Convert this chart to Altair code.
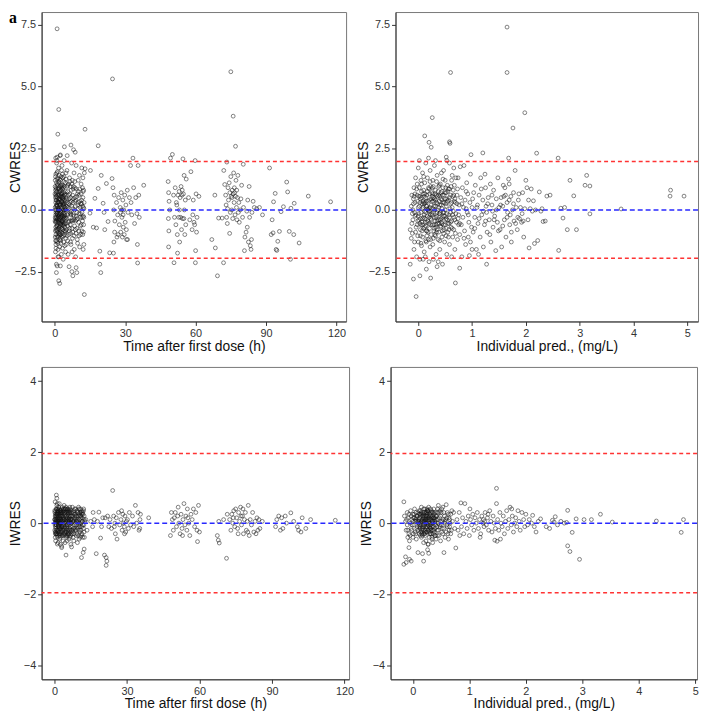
import altair as alt
import pandas as pd

# ---------------- data ----------------
# top-left: time after first dose (h) vs CWRES
tl_points = [
    (0.2,1.2),(0.3,0.8),(0.5,0.4),(0.2,0.1),(0.4,-0.2),(0.3,-0.5),(0.6,-0.8),(0.2,-1.1),(0.5,-1.4),(0.3,-1.7),
    (0.8,1.9),(0.9,1.5),(1.0,1.0),(1.2,0.6),(0.8,0.2),(1.1,-0.1),(0.9,-0.4),(1.3,-0.9),(1.0,-1.3),(1.4,-1.6),
    (0.7,-2.2),(0.4,2.1),(1.3,1.3),(0.6,0.7),(1.1,0.3),(0.7,-0.3),(1.2,-0.6),(0.5,-1.0),(1.4,-1.9),(0.9,2.0),
    (1.6,1.7),(1.8,1.1),(2.0,0.7),(2.2,0.4),(1.7,0.0),(2.4,-0.3),(1.9,-0.7),(2.6,-1.0),(2.1,-1.5),(2.8,-1.8),
    (2.3,2.2),(2.9,1.6),(2.5,1.2),(1.6,0.9),(2.7,0.5),(2.0,0.2),(2.8,-0.1),(1.8,-0.4),(2.5,-0.6),(2.2,-1.2),
    (1.7,-1.9),(2.9,0.9),(2.4,-0.9),(1.9,1.4),(2.6,0.1),
    (3.1,1.8),(3.4,1.3),(3.6,0.9),(3.2,0.5),(3.9,0.2),(4.2,-0.2),(3.5,-0.5),(4.4,-0.9),(3.8,-1.3),(4.6,-1.7),
    (4.0,2.0),(4.8,1.5),(3.3,1.0),(4.1,0.6),(4.7,0.0),(3.7,-0.3),(4.3,-0.7),(3.1,-1.1),(4.9,-1.4),(3.6,-2.0),
    (4.5,1.1),(3.9,-0.1),(4.2,0.4),(3.4,-0.8),
    (5.2,1.6),(5.5,1.0),(5.9,0.6),(6.2,0.2),(5.4,-0.2),(6.6,-0.6),(6.0,-1.0),(6.9,-1.4),(5.7,-1.8),(7.2,1.9),
    (7.5,1.2),(7.0,0.8),(7.8,0.3),(6.4,-0.1),(7.3,-0.4),(7.7,-0.9),(6.7,-1.3),(7.4,-1.7),(5.1,0.4),(5.8,-0.5),
    (6.3,1.3),(7.9,-0.2),(6.1,-2.3),(5.3,2.2),(6.8,0.5),
    (8.2,1.5),(8.6,0.9),(9.0,0.4),(8.4,0.0),(9.3,-0.4),(8.8,-0.8),(9.6,-1.2),(8.3,-1.6),(10.0,1.2),(10.4,0.6),
    (10.8,0.1),(10.2,-0.5),(11.0,-1.0),(10.6,-1.5),(11.5,1.7),(11.8,0.9),(12.0,0.5),(12.2,0.1),(11.7,-0.3),(12.3,-0.6),
    (11.9,-1.0),(12.4,-1.4),(12.1,-1.6),(12.0,1.3),(12.3,0.8),(11.6,-0.1),(12.5,0.3),(12.2,-0.9),(9.1,1.8),(10.5,1.4),
    (8.9,-1.9),(9.8,0.2),(11.3,-0.6),(12.6,1.5),(12.4,-0.3),
    (0.3,0.5),(0.6,0.0),(0.4,-0.7),(0.8,-0.5),(1.0,0.5),(0.5,0.9),(1.2,-0.2),(1.5,0.3),(1.7,-0.5),(2.1,0.0),
    (2.3,-0.4),(2.5,0.8),(2.8,0.3),(3.0,-0.2),(3.3,0.2),(3.5,-0.4),(3.8,0.7),(4.0,-0.6),(4.4,0.1),(4.6,-0.3),
    (1.1,-0.8),(0.7,1.1),(1.9,0.6),(2.2,-0.8),(2.6,-0.3),(3.1,0.7),(3.7,0.0),(4.1,-1.0),(0.2,-0.3),(0.4,0.3),
    (1.4,0.0),(1.8,0.3),(2.0,-1.0),(2.7,1.0),(3.2,-0.6),(4.8,0.6),(5.0,-0.8),(0.9,0.2),(1.6,-1.1),(3.4,0.5),
    (0.5,-0.1),(0.7,0.4),(1.3,0.1),(1.5,-0.3),(2.4,0.2),(2.9,-0.5),(3.6,0.3),(4.3,0.0),(5.6,0.1),(6.5,0.3),
    (6.9,-0.2),(7.6,0.6),(8.1,-0.4),(8.7,0.5),(9.4,-0.1),(10.1,0.3),(10.9,-0.3),(11.4,0.4),(0.9,-1.1),(1.9,-0.2),
    (0.1,0.65),(0.25,-0.85),(0.45,1.45),(0.65,-1.25),(0.85,0.75),(1.05,-0.65),(1.25,1.05),(1.45,-0.45),(1.65,0.45),(1.85,-0.95),
    (2.05,1.25),(2.25,-0.15),(2.45,0.55),(2.65,-1.35),(2.85,0.65),(3.05,-0.75),(3.25,1.45),(3.45,-0.25),(3.65,0.15),(3.85,-0.55),
    (4.05,0.95),(4.25,-1.45),(4.45,0.35),(4.65,-0.85),(4.85,0.05),(5.25,-1.05),(5.45,0.75),(5.75,-0.15),(6.05,0.45),(6.35,-0.75),
    (6.65,0.95),(6.95,-0.45),(7.25,0.15),(7.55,-1.15),(7.85,0.85),(8.45,-0.65),(9.05,-0.95),(9.65,0.65),(10.25,-0.85),(11.05,0.25),
    (0.15,0.95),(0.35,-1.25),(0.55,0.15),(0.75,-0.65),(0.95,1.25),(1.15,-0.35),(1.35,0.65),(1.55,-0.75),(1.75,1.15),(1.95,0.05),
    (2.15,-0.55),(2.35,0.95),(2.55,-0.05),(2.75,-0.75),(2.95,0.35),(3.15,-0.45),(3.35,0.85),(3.55,-1.05),(3.75,0.55),(3.95,-0.25),
    (4.15,0.25),(4.35,-0.55),(4.55,0.75),(4.75,-1.15),(4.95,0.45),(5.15,-0.35),(5.35,0.95),(5.55,-0.65),(5.85,0.25),(6.15,-0.85),
    (6.45,0.65),(6.75,-0.15),(7.05,0.35),(7.35,-0.75),(7.65,0.05),(7.95,0.95),(8.25,-0.25),(8.55,0.35),(8.85,-0.45),(9.15,0.85),
    (9.45,-0.75),(9.75,-0.35),(10.05,0.05),(10.35,-1.05),(10.65,0.85),(10.95,-0.15),(11.25,0.65),(11.55,-0.85),(11.85,0.15),(12.15,-0.25),
    (0.25,0.0),(0.45,0.6),(0.65,-0.45),(0.85,-0.15),(1.05,0.15),(1.25,-1.05),(1.45,0.85),(1.65,-0.25),(1.85,0.45),(2.05,-0.65),
    (2.25,0.25),(2.45,-1.15),(2.65,0.65),(2.85,-0.45),(3.05,0.05),(3.25,-0.95),(3.45,0.25),(3.65,-0.15),(3.85,1.15),(4.05,-0.35),
    (0.12,-0.45),(0.32,1.35),(0.52,-1.55),(0.72,0.85),(0.92,-0.85),(1.12,1.55),(1.32,-1.35),(1.52,0.05),(1.72,-0.15),(1.92,0.85),
    (2.12,-0.95),(2.32,0.45),(2.52,-1.25),(2.72,1.35),(2.92,-0.25),(3.12,0.95),(3.32,-1.55),(3.52,0.45),(3.72,-0.65),(3.92,1.35),
    (4.12,-0.85),(4.32,0.65),(4.52,-0.35),(4.72,1.25),(4.92,-0.55),(5.22,0.15),(5.52,-1.25),(5.82,1.05),(6.12,-0.45),(6.42,1.15),
    (6.72,-0.95),(7.02,-0.05),(7.32,1.05),(7.62,-0.45),(7.92,0.45),(8.22,-1.05),(8.52,1.15),(8.82,0.15),(9.12,-0.25),(9.42,0.55),
    (9.72,-1.35),(10.02,0.75),(10.32,-0.15),(10.62,0.35),(10.92,-0.65),(11.22,1.05),(11.52,0.25),(11.82,-0.45),(12.12,0.75),(12.42,0.05),
    (0.42,-0.35),(0.62,0.55),(1.02,-0.15),(1.42,0.35),(1.82,-0.35),(2.22,0.75),(2.62,-0.55),(3.02,0.55),(3.42,-0.05),(3.82,0.25),
    (1.0,7.34),(1.7,4.07),(1.3,3.07),(12.9,3.27),(12.6,-3.43),(2.1,-2.98),(1.7,-2.87),(0.7,-2.54),(1.0,-2.27),(2.4,-2.27),
    (7.3,-2.5),(7.7,-2.67),(9.1,-2.34),(9.4,-2.54),(6.9,2.63),(4.1,2.56),(2.4,2.23),(1.0,2.14),(8.7,2.34),(8.0,2.44),
    (15.0,-0.13),(17.1,0.47),(17.8,-0.73),(18.5,0.87),(19.2,-1.67),(19.8,1.4),(20.6,0.27),(21.3,-0.8),(22.0,1.07),(22.7,-0.47),
    (23.4,-1.74),(24.4,1.27),(15.2,1.6),(12.9,1.67),(18.5,2.6),(19.6,-2.54),(19.2,-2.2),(24.6,5.31),(16.4,-0.7),(21.0,-0.1),
    (25.0,-1.75),(25.2,-1.3),(25.5,-0.9),(24.8,0.9),(25.3,0.6),(25.1,0.0),(25.6,-0.45),(26.3,0.3),(26.8,-0.2),(27.2,0.5),
    (27.5,-0.6),(27.9,0.1),(28.1,-0.9),(28.3,0.7),(28.6,-0.3),(28.8,-1.1),(29.0,0.4),(29.2,-0.7),(29.4,0.0),(29.6,-1.0),
    (29.8,0.6),(30.0,-0.5),(30.3,0.2),(30.6,-1.2),(30.9,0.8),(27.0,-1.0),(28.0,-0.1),(28.5,0.0),(29.1,-0.2),(30.5,-0.8),
    (31.2,-0.1),(31.8,0.5),(32.3,1.8),(32.5,0.3),(32.8,-0.2),(33.3,2.1),(33.6,0.9),(34.0,-0.55),(34.5,0.5),(35.0,-0.15),
    (35.2,-1.4),(35.5,1.8),(35.3,-2.15),(35.8,0.6),(36.0,-0.3),(37.9,1.0),(31.0,-1.2),(26.5,-1.1),
    (48.3,1.15),(48.5,0.7),(48.7,0.35),(48.4,-0.35),(48.6,-0.85),(48.5,-1.5),(49.0,0.0),(49.3,2.1),(50.1,2.25),(50.6,0.6),
    (51.0,-0.3),(51.3,0.9),(51.6,-0.6),(52.0,0.2),(52.2,-1.0),(52.5,0.6),(52.8,-0.3),(53.0,0.75),(53.2,-1.3),(53.4,0.5),
    (53.6,-0.3),(53.8,0.95),(54.0,-0.8),(54.2,0.6),(54.4,-0.35),(54.6,2.07),(54.8,0.65),(55.0,-0.35),(55.2,0.0),(55.4,-1.0),
    (55.6,0.4),(55.8,-0.6),(56.0,1.25),(52.3,-1.75),(53.1,0.0),(51.8,0.3),(54.3,0.8),(55.1,1.4),(57.0,0.5),(57.5,-0.4),
    (58.0,1.55),(58.5,-0.8),(59.0,0.4),(59.3,-0.5),(59.6,-0.6),(60.0,-1.65),(60.2,0.65),(60.6,-0.3),(61.4,0.55),(59.8,2.0),
    (58.8,-0.2),(60.4,-0.9),(50.8,-2.14),(59.9,-2.14),
    (66.9,-1.2),(68.4,-1.54),(69.3,-2.67),(68.2,0.6),(69.8,-0.33),(71.3,-0.33),(72.0,1.6),(72.4,1.03),(73.3,1.94),(71.9,-2.14),
    (72.8,0.6),(73.0,0.2),(73.2,-0.3),(73.5,-0.55),(73.8,0.9),(74.0,0.4),(74.3,1.1),(74.6,0.7),(74.8,-0.1),(75.0,1.35),
    (75.2,0.55),(75.4,0.0),(75.6,0.8),(75.8,-0.35),(76.0,0.65),(76.2,1.5),(76.4,0.3),(76.6,0.7),(76.8,-0.2),(77.0,0.55),
    (77.2,1.2),(77.4,0.1),(77.6,-0.4),(77.8,0.5),(78.0,1.4),(78.2,-0.1),(78.4,0.3),(78.6,-0.5),(79.0,0.0),(79.3,0.45),
    (79.6,1.0),(80.0,-0.3),(80.4,0.1),(74.5,-0.95),(75.5,0.5),(76.5,0.9),(77.5,0.8),(73.6,0.05),(80.8,-1.65),(81.0,-1.1),
    (81.5,-0.9),(82.0,-0.7),(82.5,-1.3),(83.0,-0.3),(83.3,-1.45),(83.6,-1.6),(84.0,-0.1),(84.5,0.35),(85.0,0.1),(82.2,0.4),
    (83.8,-1.2),(81.8,-0.05),(80.3,1.85),(82.8,0.95),(75.0,5.6),(76.0,3.8),(77.0,2.58),
    (86.0,0.05),(87.2,0.1),(88.5,-0.2),(91.5,1.7),(92.2,-1.0),(92.6,-0.4),(93.2,0.33),(93.9,0.67),(94.3,-1.6),(94.6,-1.64),
    (95.0,-1.27),(95.7,-0.87),(96.4,-0.07),(97.4,0.13),(98.8,1.13),(99.2,0.73),(99.9,-0.87),(101.8,-1.0),(100.4,-2.0),(102.0,0.27),
    (104.1,-1.34),(108.0,0.56),(117.5,0.33),(100.6,0.07),(93.0,-0.93),
]

# top-right: individual prediction (mg/L) vs CWRES
tr_points = [
    (-0.15,-0.8),(-0.13,-1.15),(-0.12,0.6),(-0.1,0.0),(-0.1,-0.4),(-0.08,0.9),(-0.08,-1.6),(-0.06,0.3),(-0.05,-0.9),(-0.05,1.3),
    (-0.04,-0.2),(-0.03,-1.9),(-0.02,0.6),(-0.02,-0.6),(0.0,1.7),(0.0,0.1),(0.0,-1.3),(0.01,-0.4),(0.02,0.9),(0.03,-2.0),
    (0.03,0.3),(0.04,-0.8),(0.05,1.2),(0.05,-0.1),(-0.07,-1.3),(-0.09,0.25),(0.02,2.0),
    (0.06,0.5),(0.07,-0.5),(0.08,1.5),(0.08,-1.1),(0.09,0.1),(0.1,-0.3),(0.1,0.8),(0.11,-1.7),(0.12,1.1),(0.12,-0.7),
    (0.13,0.3),(0.14,-0.1),(0.14,1.9),(0.15,-1.3),(0.16,0.6),(0.16,-0.5),(0.17,1.3),(0.18,-0.9),(0.18,0.0),(0.19,0.9),
    (0.2,-0.3),(0.2,-2.1),(0.21,0.4),(0.22,-1.5),(0.22,1.6),(0.23,-0.6),(0.24,0.2),(0.24,-1.0),(0.25,0.7),(0.09,-2.0),
    (0.13,-1.9),(0.19,2.1),(0.11,0.55),(0.15,0.15),(0.17,-0.25),(0.21,-0.75),(0.23,0.95),(0.07,0.25),(0.19,-1.2),(0.12,-0.05),
    (0.26,-0.2),(0.27,1.2),(0.27,-1.4),(0.28,0.5),(0.29,-0.6),(0.3,0.0),(0.3,1.8),(0.31,-1.0),(0.32,0.8),(0.33,-0.3),
    (0.33,-1.8),(0.34,0.3),(0.35,1.4),(0.35,-0.8),(0.36,0.0),(0.37,-1.2),(0.38,0.6),(0.38,-0.4),(0.39,1.0),(0.4,-1.6),
    (0.4,0.2),(0.41,-0.1),(0.42,0.7),(0.42,-0.7),(0.43,1.5),(0.44,-1.1),(0.44,0.4),(0.45,-0.3),(0.26,0.9),(0.29,0.15),
    (0.31,-0.45),(0.34,-0.9),(0.36,0.55),(0.39,-0.15),(0.41,1.05),(0.43,-0.5),(0.28,-2.0),(0.37,-2.1),(0.32,2.0),(0.3,0.45),
    (0.46,0.9),(0.47,-0.6),(0.48,0.3),(0.49,-1.3),(0.5,1.2),(0.5,0.0),(0.51,-0.4),(0.52,0.7),(0.53,-1.8),(0.54,1.0),
    (0.55,-0.9),(0.56,0.4),(0.57,-0.2),(0.58,1.9),(0.58,-1.4),(0.6,0.6),(0.61,-0.7),(0.62,1.2),(0.63,0.1),(0.64,-1.1),
    (0.65,0.8),(0.66,-0.3),(0.67,1.0),(0.68,-1.6),(0.69,0.3),(0.7,1.3),(0.48,-0.1),(0.52,-0.75),(0.55,0.75),(0.6,-0.1),
    (0.63,1.4),(0.47,1.6),(0.53,2.0),(0.66,1.7),(0.62,-1.9),
    (-0.11,-0.15),(-0.06,0.65),(-0.01,-1.05),(0.04,0.45),(0.08,-0.35),(0.11,0.25),(0.14,-0.65),(0.17,0.75),(0.2,0.05),(0.23,-0.35),
    (0.26,0.35),(0.29,-0.85),(0.32,0.15),(0.35,-0.45),(0.38,0.95),(0.41,-0.65),(0.44,0.05),(0.47,-0.25),(0.5,0.45),(0.53,-0.15),
    (0.06,-1.45),(0.1,1.35),(0.16,-1.05),(0.22,1.15),(0.28,-1.15),(0.34,1.15),(0.4,-1.25),(0.46,1.25),(0.52,-1.05),(0.58,0.85),
    (0.03,-0.55),(0.09,0.65),(0.15,-0.85),(0.21,-0.05),(0.27,0.65),(0.33,-0.6),(0.39,0.35),(0.45,-0.85),(0.51,0.25),(0.57,-0.55),
    (-0.12,-0.55),(-0.09,0.45),(-0.07,-0.1),(-0.04,-0.7),(-0.01,0.35),(0.01,-0.15),(0.04,-1.05),(0.06,0.75),(0.08,-0.6),(0.1,0.3),
    (0.12,-0.35),(0.14,0.5),(0.16,-0.85),(0.18,0.35),(0.2,-0.55),(0.22,0.1),(0.24,-0.4),(0.26,0.55),(0.28,-0.1),(0.3,-0.75),
    (0.32,0.4),(0.34,-0.25),(0.36,0.25),(0.38,-0.9),(0.4,0.55),(0.42,-0.35),(0.44,0.75),(0.46,-0.1),(0.48,0.6),(0.5,-0.6),
    (0.52,0.15),(0.54,-0.4),(0.56,0.85),(0.58,-0.3),(0.6,0.25),(0.62,-0.45),(0.64,0.55),(0.66,-0.8),(0.68,0.45),(0.7,-0.15),
    (0.0,-0.25),(0.03,0.55),(0.07,-0.85),(0.11,-0.2),(0.15,0.35),(0.19,-0.05),(0.23,-1.2),(0.27,0.05),(0.31,0.65),(0.35,-0.1),
    (0.39,-0.55),(0.43,0.2),(0.47,-0.95),(0.51,0.9),(0.55,-0.55),(0.59,0.05),(0.63,-0.75),(0.67,0.35),(-0.02,1.05),(0.05,-1.35),
    (-0.13,0.15),(-0.11,-0.95),(-0.08,0.55),(-0.06,-0.25),(-0.03,0.85),(-0.01,-0.45),(0.02,0.15),(0.04,-0.35),(0.06,1.05),(0.08,0.05),
    (0.1,-0.75),(0.12,0.65),(0.14,-1.25),(0.16,0.15),(0.18,-0.45),(0.2,0.85),(0.22,-0.2),(0.24,0.45),(0.26,-0.6),(0.28,0.95),
    (0.3,-0.3),(0.32,-1.05),(0.34,0.6),(0.36,-0.55),(0.38,0.1),(0.4,-0.15),(0.42,0.45),(0.44,-0.55),(0.46,0.3),(0.48,-0.8),
    (0.5,0.7),(0.52,-0.35),(0.54,0.35),(0.56,-1.1),(0.58,0.5),(0.6,-0.5),(0.62,0.3),(0.64,-0.2),(0.66,0.6),(0.68,-0.4),
    (0.01,0.55),(0.05,-0.6),(0.09,0.35),(0.13,-0.5),(0.17,0.05),(0.21,0.65),(0.25,-0.15),(0.29,0.35),(0.33,-0.7),(0.37,0.75),
    (0.41,-0.4),(0.45,0.6),(0.49,-0.25),(0.53,0.45),(0.57,-0.8),(0.61,0.95),(0.65,-0.05),(0.69,-0.95),(0.72,0.25),(0.75,-0.6),
    (0.71,-0.5),(0.72,0.6),(0.73,-1.2),(0.74,1.3),(0.75,-0.2),(0.76,0.2),(0.77,-1.0),(0.78,1.75),(0.79,0.5),(0.8,-0.6),
    (0.81,-1.9),(0.82,0.9),(0.83,-0.3),(0.84,0.1),(0.86,-0.85),(0.87,0.4),(0.88,-1.4),(0.9,1.1),(0.91,-0.1),(0.92,0.65),
    (0.94,-0.5),(0.95,-1.85),(0.96,0.3),(0.97,1.45),(0.99,-0.7),(1.0,0.1),(0.85,1.8),(0.93,-1.1),(0.74,-0.35),(0.89,0.05),
    (0.73,0.85),(0.77,-0.55),(0.81,0.25),(0.85,-1.15),(0.89,0.75),(0.93,-0.2),(0.97,-1.3),(1.01,0.45),(1.05,-0.75),(1.09,0.1),
    (1.13,-0.35),(1.17,0.85),(1.21,-0.05),(1.25,-0.45),(1.29,0.25),(1.33,-1.0),(1.37,0.6),(1.41,-0.4),(1.45,0.0),(1.49,-0.85),
    (1.53,0.2),(1.57,-0.65),(1.61,0.9),(1.65,-0.3),(1.69,0.4),(1.73,-0.9),(1.77,0.25),(1.81,-0.55),(1.87,0.65),(1.93,-0.15),
    (1.02,-0.9),(1.03,0.7),(1.05,-0.3),(1.06,1.0),(1.08,-1.6),(1.1,0.2),(1.11,-0.55),(1.13,0.6),(1.15,-1.1),(1.16,1.3),
    (1.18,-0.2),(1.2,0.4),(1.21,-1.5),(1.23,-0.6),(1.25,0.9),(1.27,-0.1),(1.28,-0.9),(1.3,0.5),(1.32,-0.4),(1.34,1.05),
    (1.35,-1.3),(1.37,0.2),(1.39,-0.7),(1.4,0.8),(1.42,-0.25),(1.44,-1.65),(1.45,0.45),(1.47,-0.5),(1.48,1.3),(1.5,0.1),
    (1.12,-1.8),(1.26,0.15),(1.38,-0.05),(1.24,1.45),
    (1.52,-0.8),(1.54,0.5),(1.55,-1.5),(1.57,0.15),(1.58,1.0),(1.6,-0.4),(1.62,0.6),(1.63,-1.1),(1.65,0.3),(1.66,-0.1),
    (1.68,1.25),(1.7,-0.6),(1.72,0.55),(1.73,-1.3),(1.75,0.0),(1.77,0.7),(1.78,-0.45),(1.8,1.6),(1.82,0.1),(1.84,-0.8),
    (1.86,0.4),(1.88,-0.35),(1.9,0.1),(1.92,-0.5),(1.94,0.7),(1.96,-1.1),(1.98,0.05),(2.0,1.2),(1.59,0.55),(1.71,-0.2),
    (1.85,-0.3),(1.95,-0.45),(1.69,1.05),
    (2.02,0.9),(2.04,-0.4),(2.05,0.4),(2.06,-1.54),(2.08,0.05),(2.1,0.85),(2.12,-0.05),(2.14,0.37),(2.16,-1.36),(2.18,0.0),
    (2.22,-1.24),(2.25,0.73),(2.28,-0.05),(2.32,-0.47),(2.36,-0.45),(2.39,0.56),(2.45,0.6),(2.3,0.05),
    (1.65,7.41),(1.65,5.57),(0.6,5.57),(1.98,3.94),(1.76,3.32),(0.26,3.74),(0.12,3.0),(0.2,2.74),(0.24,2.54),(0.58,2.76),
    (0.59,2.7),(0.52,2.14),(-0.04,-3.51),(-0.09,-2.8),(0.69,-2.96),(0.23,-2.76),(0.03,-2.67),(-0.15,-2.2),(0.77,-2.36),(1.27,-2.2),
    (0.98,2.24),(1.2,2.31),(2.2,2.3),(2.6,2.1),(1.68,2.1),(2.61,-1.64),(2.65,0.07),(2.69,-0.33),(2.77,-0.8),(2.82,1.2),
    (2.89,0.57),(2.94,-0.8),(3.13,1.4),(3.1,1.0),(3.19,-0.16),(3.19,0.97),(2.72,0.1),(3.77,0.04),(4.68,0.56),(4.69,0.8),
    (4.94,0.56),(1.0,-1.6),(0.45,-2.2),(0.35,-2.3),(0.15,-2.4),
]

# bottom-left: time after first dose (h) vs IWRES
bl_points = [
    (0.2,0.3),(0.3,0.0),(0.4,-0.3),(0.5,0.15),(0.6,-0.15),(0.7,0.4),(0.8,-0.05),(0.9,0.25),(1.0,-0.35),(1.1,0.1),
    (1.2,-0.2),(1.3,0.35),(1.4,0.05),(1.5,-0.1),(1.6,0.2),(1.7,-0.3),(1.8,0.45),(1.9,0.0),(2.0,-0.25),(2.1,0.15),
    (2.2,-0.05),(2.3,0.3),(2.4,-0.4),(2.5,0.1),(2.6,-0.15),(2.7,0.25),(2.8,-0.3),(2.9,0.05),(0.3,0.6),(0.5,-0.5),
    (1.0,0.5),(1.5,-0.55),(2.0,0.55),(2.5,-0.6),(0.1,0.1),(0.6,0.2),(1.2,0.25),(1.7,0.1),(2.2,0.2),(2.8,0.3),
    (0.4,-0.1),(0.9,-0.2),(1.4,-0.25),(1.9,-0.15),(2.4,0.0),(2.9,-0.2),(0.8,0.79),(1.0,0.7),(1.2,0.55),
    (3.1,0.2),(3.3,-0.1),(3.5,0.35),(3.7,-0.3),(3.9,0.1),(4.1,-0.2),(4.3,0.3),(4.5,0.0),(4.7,-0.35),(4.9,0.15),
    (5.1,-0.15),(5.3,0.4),(5.5,0.05),(5.7,-0.25),(5.9,0.2),(6.1,-0.05),(6.3,0.3),(6.5,-0.4),(6.7,0.1),(6.9,-0.2),
    (3.2,0.45),(3.6,-0.5),(4.0,0.5),(4.4,-0.55),(4.8,0.45),(5.2,-0.5),(5.6,0.4),(6.0,-0.45),(6.4,0.45),(6.8,-0.6),
    (3.4,0.05),(3.8,0.25),(4.2,0.1),(4.6,0.25),(5.0,-0.05),(5.4,-0.3),(5.8,0.1),(6.2,0.15),(6.6,-0.1),(3.0,-0.65),
    (4.8,-0.9),(3.0,-0.69),(7.1,-0.67),(2.7,0.0),(1.2,-0.59),
    (7.2,0.3),(7.5,-0.1),(7.8,0.2),(8.1,-0.3),(8.4,0.4),(8.7,0.0),(9.0,-0.2),(9.3,0.35),(9.6,0.1),(9.9,-0.35),
    (10.2,0.25),(10.5,-0.1),(10.8,0.4),(11.1,0.0),(11.4,-0.3),(11.7,0.3),(12.0,-0.15),(12.3,0.2),(12.6,0.05),(7.4,0.45),
    (8.0,-0.5),(8.8,0.4),(9.5,-0.55),(10.0,0.45),(10.7,-0.4),(11.3,0.35),(12.1,0.4),(12.4,-0.4),(7.6,0.05),(8.5,0.15),
    (9.2,-0.05),(10.4,0.1),(11.6,0.05),(12.2,-0.05),(10.2,-0.45),(11.2,-0.97),(11.9,-0.83),(12.3,-0.73),(13.0,0.1),(13.5,-0.2),
    (0.3,0.2),(0.7,-0.25),(1.1,0.3),(1.6,-0.05),(2.1,-0.35),(2.6,0.35),(3.2,-0.25),(3.7,0.4),(4.4,-0.1),(5.0,0.3),
    (5.6,-0.2),(6.2,0.35),(6.8,0.0),(7.3,-0.3),(8.2,0.1),(9.1,0.2),(10.3,-0.2),(11.5,0.15),(0.5,0.05),(1.4,0.4),
    (2.3,-0.15),(3.5,0.1),(4.0,-0.35),(4.6,0.4),(5.3,-0.35),(5.9,0.0),(6.5,0.2),(7.9,-0.15),(9.7,0.3),(11.0,-0.2),
    (0.15,-0.2),(0.55,0.35),(0.95,0.05),(1.35,-0.4),(1.75,0.3),(2.15,-0.45),(2.55,0.2),(2.95,0.4),(3.35,-0.35),(3.75,0.05),
    (4.15,0.4),(4.55,-0.25),(4.95,-0.4),(5.35,0.15),(5.75,0.3),(6.15,-0.3),(6.55,0.05),(6.95,0.35),(7.35,0.1),(7.75,-0.4),
    (8.15,0.25),(8.55,-0.2),(8.95,0.1),(9.35,-0.3),(9.75,0.05),(10.15,-0.05),(10.55,0.3),(10.95,0.2),(11.35,-0.1),(11.75,-0.4),
    (0.25,-0.05),(0.45,0.25),(0.65,0.05),(0.85,-0.3),(1.05,0.2),(1.25,0.0),(1.45,0.3),(1.65,-0.2),(1.85,0.1),(2.05,-0.1),
    (2.25,0.35),(2.45,0.15),(2.65,-0.25),(2.85,0.1),(3.05,0.3),(3.25,-0.05),(3.45,0.2),(3.65,-0.15),(3.85,0.35),(4.05,0.0),
    (4.25,-0.3),(4.45,0.2),(4.65,0.05),(4.85,-0.2),(5.05,0.35),(5.25,0.1),(5.45,-0.1),(5.65,0.25),(5.85,-0.35),(6.05,0.1),
    (6.25,-0.15),(6.45,0.3),(6.65,-0.25),(6.85,0.2),(7.05,0.0),(7.45,-0.2),(7.85,0.3),(8.25,-0.05),(8.65,0.25),(9.05,0.05),
    (9.45,-0.15),(9.85,0.2),(10.25,0.0),(10.65,0.2),(11.05,0.3),(11.45,0.05),(11.85,0.25),(12.25,-0.25),(0.35,-0.4),(0.75,0.1),
    (0.12,0.35),(0.32,-0.25),(0.52,0.1),(0.72,-0.05),(0.92,0.4),(1.12,-0.3),(1.32,0.15),(1.52,0.35),(1.72,-0.1),(1.92,0.25),
    (2.12,0.05),(2.32,-0.3),(2.52,0.35),(2.72,-0.1),(2.92,0.2),(3.12,-0.35),(3.32,0.3),(3.52,-0.2),(3.72,0.15),(3.92,-0.05),
    (4.12,0.3),(4.32,-0.15),(4.52,0.4),(4.72,0.1),(4.92,-0.25),(5.12,0.2),(5.32,-0.05),(5.52,0.3),(5.72,-0.3),(5.92,0.35),
    (6.12,0.05),(6.32,-0.2),(6.52,0.4),(6.72,-0.35),(6.92,0.1),(7.22,0.2),(7.52,-0.25),(7.82,0.05),(8.12,0.35),(8.42,-0.15),
    (8.72,0.2),(9.02,-0.35),(9.32,0.05),(9.62,0.3),(9.92,-0.1),(10.22,0.4),(10.52,-0.25),(10.82,0.15),(11.12,-0.35),(11.42,0.25),
    (11.72,-0.05),(12.02,0.35),(12.32,0.1),(0.22,0.1),(0.62,-0.3),(1.02,0.25),(1.62,0.05),(2.02,0.4),(2.62,0.05),(3.02,-0.1),
    (15.0,0.05),(15.8,-0.1),(16.5,0.1),(17.3,-0.86),(17.8,0.05),(18.4,0.31),(19.1,-0.42),(19.5,-0.1),(20.0,0.15),(20.7,-0.9),
    (21.4,-0.97),(21.7,-1.07),(21.4,-1.19),(21.0,0.15),(22.0,0.2),(22.5,-0.1),(23.0,0.1),(24.1,0.92),(23.6,-0.15),(16.0,0.3),
    (24.5,0.2),(24.8,-0.1),(25.0,0.0),(25.2,-0.3),(25.6,0.15),(25.9,-0.45),(26.5,0.3),(27.0,-0.05),(27.5,0.1),(28.0,-0.2),
    (28.3,0.25),(28.6,0.0),(28.9,-0.1),(29.2,0.2),(29.5,-0.25),(29.8,0.05),(30.2,0.1),(30.6,-0.15),(31.0,0.3),(31.5,-0.05),
    (32.3,0.2),(32.8,-0.1),(33.5,0.5),(34.0,0.0),(34.6,0.3),(35.0,-0.2),(35.4,0.1),(35.6,0.25),(35.3,-0.15),(39.0,0.15),
    (27.8,0.35),(29.0,-0.3),
    (48.0,-0.35),(48.4,0.3),(48.8,0.1),(49.2,-0.2),(49.6,0.15),(50.0,0.3),(50.5,-0.1),(51.0,0.2),(51.5,0.0),(52.0,-0.3),
    (52.4,0.25),(52.8,-0.15),(53.2,0.1),(53.6,0.55),(54.0,-0.05),(54.4,0.2),(54.8,-0.2),(55.2,0.15),(55.6,0.0),(56.0,-0.35),
    (56.5,0.25),(57.0,0.1),(57.5,0.4),(58.0,-0.1),(58.5,0.3),(59.0,-0.2),(59.2,-0.52),(59.6,0.5),(60.0,-0.25),(53.0,-0.35),
    (55.0,0.4),(51.2,0.45),
    (67.4,-0.35),(67.8,-0.48),(68.2,-0.56),(71.2,-0.99),(68.0,0.05),(70.0,0.1),(71.5,0.25),
    (72.5,0.1),(73.0,-0.2),(73.4,0.25),(73.8,0.0),(74.2,0.35),(74.6,-0.1),(75.0,0.4),(75.4,0.15),(75.8,-0.15),(76.2,0.3),
    (76.6,0.05),(77.0,0.45),(77.4,-0.05),(77.8,0.2),(78.2,-0.3),(78.6,0.1),(79.0,0.3),(79.4,-0.2),(79.8,0.05),(80.2,0.5),
    (80.6,-0.35),(81.0,0.1),(81.5,-0.05),(82.0,0.3),(82.5,-0.25),(83.0,0.05),(83.4,-0.3),(83.8,0.15),(84.2,-0.2),(84.6,0.1),
    (85.0,-0.15),(86.0,0.05),(76.0,-0.3),(78.0,0.4),(80.0,-0.25),(74.0,0.15),(77.2,0.2),
    (91.5,-0.1),(92.0,0.1),(92.8,0.2),(93.5,-0.2),(94.0,0.15),(94.5,-0.15),(95.5,0.2),(96.0,0.0),(97.8,0.29),(99.0,0.05),
    (100.5,-0.1),(101.0,-0.2),(102.0,-0.25),(102.5,0.15),(104.0,-0.15),(106.0,0.1),(116.2,0.08),
]

# bottom-right: individual prediction (mg/L) vs IWRES
br_points = [
    (-0.15,0.2),(-0.13,0.05),(-0.12,-0.2),(-0.1,0.3),(-0.1,-0.05),(-0.08,0.15),(-0.07,-0.3),(-0.05,0.0),(-0.04,0.35),(-0.03,-0.15),
    (-0.02,0.1),(0.0,-0.4),(0.0,0.25),(0.02,-0.05),(0.03,0.4),(0.04,-0.25),(0.05,0.1),(0.06,-0.45),(0.07,0.2),(0.08,-0.1),
    (0.09,0.3),(0.1,0.0),(-0.06,-0.5),(0.01,0.15),(-0.09,-0.4),
    (0.11,-0.3),(0.12,0.15),(0.13,0.35),(0.14,-0.05),(0.15,-0.4),(0.16,0.25),(0.17,0.05),(0.18,-0.2),(0.19,0.4),(0.2,-0.1),
    (0.21,0.1),(0.22,-0.35),(0.23,0.3),(0.24,0.0),(0.25,-0.25),(0.26,0.2),(0.27,-0.05),(0.28,0.45),(0.29,-0.4),(0.3,0.1),
    (0.31,-0.15),(0.32,0.3),(0.33,-0.3),(0.34,0.05),(0.35,0.2),(0.36,-0.1),(0.37,0.4),(0.38,-0.25),(0.39,0.15),(0.4,-0.05),
    (0.12,-0.15),(0.14,0.2),(0.16,-0.25),(0.18,0.1),(0.2,0.3),(0.22,0.0),(0.24,-0.15),(0.26,0.35),(0.28,-0.2),(0.3,0.25),
    (0.32,-0.05),(0.34,-0.45),(0.36,0.15),(0.38,0.25),(0.4,-0.35),(0.13,0.0),(0.17,-0.35),(0.21,0.4),(0.25,0.1),(0.29,0.0),
    (0.33,0.15),(0.37,-0.2),(0.23,-0.5),(0.27,-0.6),(0.19,-0.55),(0.15,0.45),(0.31,0.4),(0.35,-0.55),(0.26,-0.75),(0.28,-0.85),
    (0.11,0.05),(0.39,0.3),(0.2,0.05),(0.24,0.2),(0.28,0.1),(0.32,-0.2),(0.25,-0.1),(0.3,-0.3),(0.18,-0.05),(0.22,0.2),
    (0.115,0.25),(0.135,-0.25),(0.155,0.1),(0.175,0.3),(0.195,-0.3),(0.215,-0.2),(0.235,0.15),(0.255,0.35),(0.275,0.05),(0.295,-0.1),
    (0.315,0.2),(0.335,-0.4),(0.355,0.0),(0.375,0.1),(0.395,-0.15),(0.05,-0.3),(0.07,0.05),(0.09,-0.2),(0.02,0.25),(0.0,0.05),
    (0.105,0.1),(0.125,-0.1),(0.145,0.3),(0.165,-0.15),(0.185,0.2),(0.205,-0.25),(0.225,0.1),(0.245,0.3),(0.265,-0.2),(0.285,0.2),
    (0.305,-0.05),(0.325,0.1),(0.345,0.3),(0.365,-0.3),(0.385,0.05),(0.405,0.2),(0.425,-0.1),(0.445,0.1),(0.465,0.3),(0.485,0.05),
    (0.21,-0.05),(0.23,0.05),(0.25,0.25),(0.27,0.15),(0.29,-0.25),(0.31,0.0),(0.33,-0.1),(0.35,0.05),(0.19,0.15),(0.17,0.2),
    (0.15,-0.2),(0.13,0.25),(0.06,0.15),(0.04,0.05),(0.08,0.2),(-0.02,-0.2),(0.52,-0.15),(0.56,0.0),(0.6,0.15),(0.64,-0.2),
    (-0.11,0.1),(-0.09,-0.2),(-0.07,0.25),(-0.05,-0.35),(-0.03,0.2),(-0.01,-0.05),(0.01,-0.3),(0.03,0.15),(0.05,0.3),(0.07,-0.15),
    (0.09,0.05),(0.11,0.35),(0.13,-0.35),(0.15,0.05),(0.17,-0.1),(0.19,0.25),(0.21,-0.3),(0.23,-0.1),(0.25,0.4),(0.27,0.3),
    (0.29,0.15),(0.31,-0.3),(0.33,0.35),(0.35,-0.2),(0.37,0.15),(0.39,-0.35),(0.41,0.1),(0.43,0.3),(0.45,-0.2),(0.47,-0.05),
    (0.49,0.2),(0.51,0.4),(0.53,-0.3),(0.55,0.3),(0.57,0.05),(0.59,-0.25),(0.61,-0.1),(0.63,0.25),(0.65,0.1),(0.67,-0.3),
    (0.115,-0.05),(0.155,-0.3),(0.195,0.05),(0.235,-0.25),(0.275,0.35),(0.315,-0.15),(0.355,0.3),(0.395,0.0),(0.435,-0.35),(0.475,0.35),
    (0.42,0.2),(0.43,-0.2),(0.44,0.4),(0.45,0.0),(0.46,-0.35),(0.47,0.15),(0.48,-0.1),(0.5,0.3),(0.51,-0.25),(0.52,0.05),
    (0.53,0.45),(0.55,-0.15),(0.56,0.2),(0.57,-0.4),(0.58,0.1),(0.6,-0.05),(0.61,0.3),(0.62,-0.3),(0.64,0.15),(0.65,-0.1),
    (0.67,0.25),(0.68,-0.2),(0.7,0.05),(0.72,0.3),(0.74,-0.15),(0.45,0.5),(0.49,-0.5),(0.54,0.1),(0.59,0.52),(0.63,-0.45),
    (0.66,0.0),(0.69,0.35),(0.55,-0.83),(0.76,-0.7),(0.41,-0.45),(0.5,-0.05),
    (0.78,0.1),(0.8,-0.2),(0.82,0.3),(0.85,0.57),(0.86,-0.1),(0.88,0.15),(0.9,-0.3),(0.92,0.55),(0.94,0.05),(0.96,-0.15),
    (0.98,0.2),(1.0,-0.35),(1.02,0.1),(1.04,-0.05),(1.06,0.25),(1.08,-0.2),(1.1,0.15),(1.12,0.0),(1.14,0.3),(1.16,-0.15),
    (1.18,0.1),(1.2,-0.3),(1.22,0.2),(1.24,0.0),(1.25,0.1),(1.26,-0.1),(1.28,0.3),(1.3,-0.05),(1.32,0.15),(1.34,-0.2),
    (1.36,0.35),(1.38,0.05),(1.4,-0.25),(1.42,0.2),(1.44,0.0),(1.46,-0.15),(1.48,0.98),(1.48,0.55),(1.49,-0.51),(1.45,-0.48),
    (0.83,-0.35),(1.01,0.4),(1.19,-0.4),(1.27,0.05),(1.33,0.25),
    (1.5,0.1),(1.52,-0.2),(1.54,0.3),(1.56,0.0),(1.58,-0.1),(1.6,0.2),(1.62,-0.3),(1.64,0.05),(1.66,0.35),(1.68,-0.15),
    (1.7,0.1),(1.72,0.45),(1.74,-0.05),(1.76,0.2),(1.78,-0.25),(1.8,0.0),(1.82,0.15),(1.84,-0.1),(1.86,0.35),(1.88,0.05),
    (1.9,-0.2),(1.93,0.3),(1.96,0.1),(1.98,-0.1),(2.0,0.25),(2.03,-0.05),(2.06,0.1),(2.1,0.0),(2.12,0.22),(2.15,-0.1),
    (2.18,-0.25),(2.22,0.05),(2.26,0.12),(1.55,-0.45),(1.75,0.4),
    (2.36,-0.1),(2.42,-0.15),(2.47,0.08),(2.5,0.03),(2.52,0.18),(2.56,-0.05),(2.62,0.05),(2.68,0.0),(2.72,0.02),(2.74,0.36),
    (2.74,-0.64),(2.78,-0.8),(2.82,-0.26),(2.89,0.12),(2.95,-1.02),(3.03,0.1),(3.16,0.1),(3.32,0.25),(3.53,0.03),(4.31,0.06),
    (4.75,-0.26),(4.79,0.1),
    (-0.16,0.6),(-0.16,-1.16),(-0.12,-1.11),(-0.13,-0.95),(-0.06,-1.02),(-0.03,-1.07),(-0.07,-0.69),(0.09,-0.83),(0.17,-0.86),(0.19,-1.07),
    (0.27,-0.59),
]

time_ticks = [0, 30, 60, 90, 120]
ipred_ticks = [0, 1, 2, 3, 4, 5]
cwres_ticks = [-2.5, 0.0, 2.5, 5.0, 7.5]
iwres_ticks = [-4, -2, 0, 2, 4]
ref_red = [-1.96, 1.96]
ref_blue = [0.0]

FONT = "Liberation Sans"


def panel(points, xdom, ydom, xticks, yticks, yfmt, xtitle, ytitle, w, h, ytx, label=None):
    df = pd.DataFrame(points, columns=["x", "y"])
    xs = alt.Scale(domain=xdom, nice=False, zero=False)
    ys = alt.Scale(domain=ydom, nice=False, zero=False)
    xax = alt.Axis(values=xticks, title=xtitle, format="d", titleX=w / 2, titleY=29,
                   titleAlign="center", titleBaseline="alphabetic")
    yax = alt.Axis(values=yticks, title=ytitle, format=yfmt, titleX=ytx, titleY=h / 2,
                   titleAngle=270, titleAlign="center", titleBaseline="alphabetic")
    pts = alt.Chart(df).mark_point(shape="circle", filled=False, size=15, strokeWidth=0.75,
                                    color="#111111", opacity=0.7).encode(
        x=alt.X("x:Q", scale=xs, axis=xax),
        y=alt.Y("y:Q", scale=ys, axis=yax),
    )
    red = alt.Chart(pd.DataFrame({"y": ref_red})).mark_rule(
        color="#FF3333", strokeDash=[4, 3], strokeWidth=1.5).encode(y=alt.Y("y:Q", scale=ys, axis=yax))
    blue = alt.Chart(pd.DataFrame({"y": ref_blue})).mark_rule(
        color="#2828FF", strokeDash=[5, 3], strokeWidth=1.5).encode(y=alt.Y("y:Q", scale=ys, axis=yax))
    layers = [pts, red, blue]
    if label:
        txt = alt.Chart(pd.DataFrame({"t": [label]})).mark_text(
            align="left", baseline="alphabetic", font="Liberation Serif", fontWeight="bold",
            fontSize=16, color="#000").encode(text="t:N", x=alt.value(-33), y=alt.value(11))
        layers.append(txt)
    return alt.layer(*layers).properties(width=w, height=h)


tl = panel(tl_points, [-5.6, 124.1], [-4.52, 8.02], time_ticks, cwres_ticks, ".1f",
           "Time after first dose (h)", "CWRES", 308, 313, -22, label="a")
tr = panel(tr_points, [-0.423, 5.2], [-4.52, 8.02], ipred_ticks, cwres_ticks, ".1f",
           "Individual pred., (mg/L)", "CWRES", 306, 313, -28)
bl = panel(bl_points, [-5.3, 121.9], [-4.4, 4.4], time_ticks, iwres_ticks, "d",
           "Time after first dose (h)", "IWRES", 311, 316, -22)
br = panel(br_points, [-0.395, 5.03], [-4.4, 4.4], ipred_ticks, iwres_ticks, "d",
           "Individual pred., (mg/L)", "IWRES", 310, 316, -20)

row1 = alt.hconcat(tl, tr, spacing=50, bounds="flush")
row2 = alt.hconcat(bl, br, spacing=42, bounds="flush")

chart = alt.vconcat(row1, row2, spacing=12).properties(
    padding={"top": -3, "left": 0, "right": 0, "bottom": 0},
    background="white",
).configure_view(
    stroke="#777777", strokeWidth=1
).configure_axis(
    grid=False,
    labelFont=FONT, labelFontSize=11, labelColor="#333333", labelPadding=2,
    titleFont=FONT, titleFontSize=14, titleColor="#111111", titleFontWeight="normal",
    tickColor="#333333", tickSize=4, tickWidth=1,
    domainColor="#333333", domainWidth=1,
)

chart.save("out.html", embed_options={"renderer": "svg", "actions": False})
